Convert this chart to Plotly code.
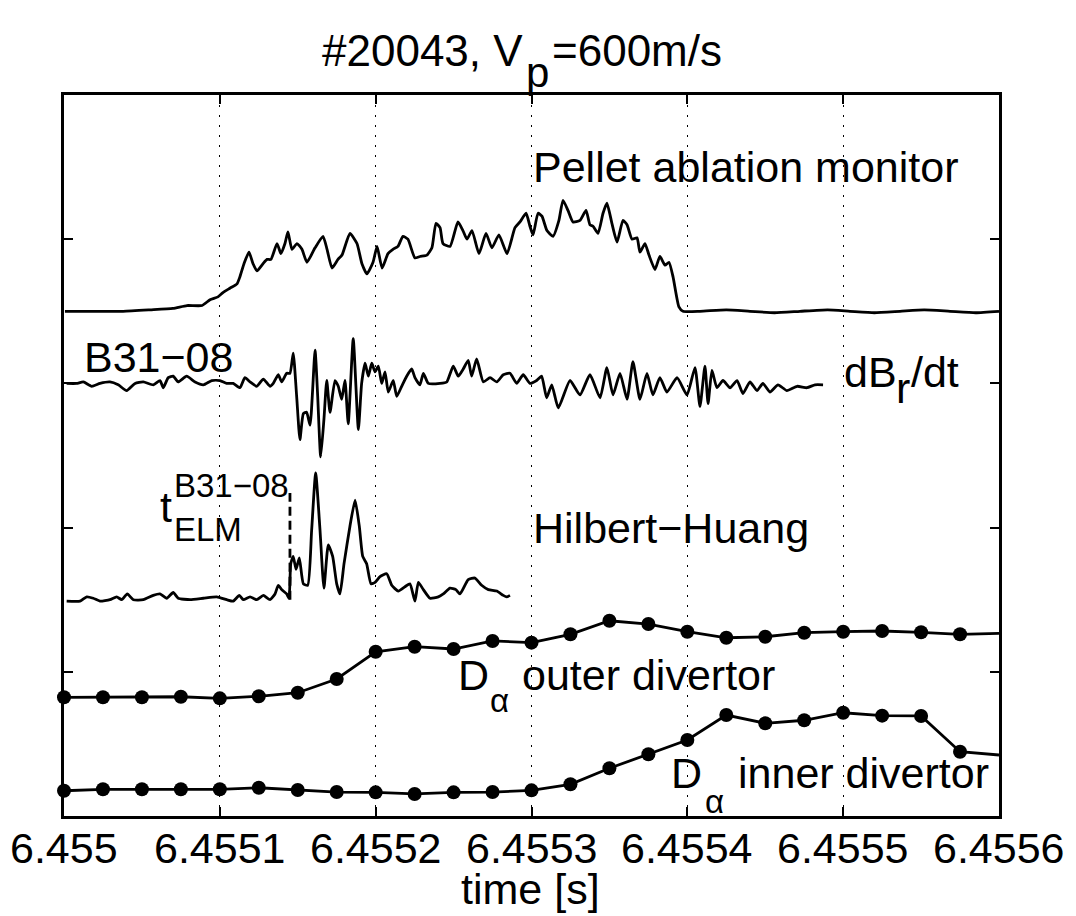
import numpy as np
import plotly.graph_objects as go

T0 = 6.455  # s, time origin; time arrays below are microseconds after T0

# ---------------- data ----------------
pellet_t_us = [0.6, 16.7, 37.9, 55.2, 69.9, 78.9, 88.6, 93.7, 98.8, 102.0, 106.5, 111.0, 112.9, 115.5,
               118.7, 121.3, 123.8, 127.7, 130.3, 132.8, 136.7, 139.2, 141.8, 143.7, 146.3, 149.5, 152.7,
               155.9, 161.1, 166.2, 168.8, 172.0, 175.8, 178.4, 183.5, 188.0, 191.2, 194.4, 198.3, 200.9,
               204.1, 207.9, 211.1, 214.3, 217.5, 220.7, 225.2, 228.4, 232.9, 236.1, 238.7, 241.3, 243.2,
               247.7, 252.8, 256.0, 258.6, 261.8, 266.3, 270.8, 274.6, 279.1, 284.3, 289.4, 292.6, 296.5,
               299.0, 301.0, 304.2, 306.7, 309.9, 313.8, 317.6, 320.2, 323.4, 326.6, 331.1, 335.0, 337.5,
               339.5, 342.7, 345.9, 348.4, 351.6, 354.9, 358.7, 361.3, 364.5, 367.7, 369.6, 372.8, 375.4,
               379.2, 382.4, 385.7, 388.2, 390.8, 394.6, 397.2, 408.1, 425.0, 440.2, 456.0, 472.3, 490.0,
               504.4, 520.0, 536.5, 552.0, 568.6, 585.0, 600.0]
pellet_val = [3.50, 3.50, 3.50, 3.51, 3.52, 3.54, 3.54, 3.58, 3.60, 3.63, 3.66, 3.69, 3.74, 3.83,
              3.91, 3.83, 3.78, 3.83, 3.86, 3.86, 3.97, 3.90, 3.97, 4.05, 3.93, 3.97, 3.93,
              3.84, 3.94, 4.02, 3.93, 3.80, 3.86, 3.89, 4.04, 3.97, 3.83, 3.76, 3.84, 3.95,
              3.80, 3.90, 3.93, 3.95, 4.02, 4.00, 3.87, 3.88, 3.89, 3.94, 4.11, 4.08, 3.97,
              3.95, 4.12, 4.06, 4.00, 4.06, 3.90, 4.04, 3.94, 4.03, 3.90, 4.08, 4.12, 4.18,
              4.09, 4.03, 4.18, 4.16, 4.06, 4.02, 4.13, 4.27, 4.20, 4.12, 4.13, 4.20, 4.10,
              4.09, 4.04, 4.18, 4.25, 4.11, 3.98, 4.13, 4.10, 4.00, 4.01, 3.91, 3.97, 3.89,
              3.79, 3.88, 3.82, 3.84, 3.74, 3.53, 3.50, 3.50, 3.51, 3.50, 3.49, 3.50, 3.51,
              3.50, 3.49, 3.50, 3.51, 3.50, 3.49, 3.50]

dbdt_t_us = [1.7, 8.1, 12.4, 17.8, 23.1, 29.5, 34.8, 40.2, 45.6, 50.9, 57.3, 61.6, 63.7, 66.9, 70.1,
             73.3, 78.7, 84.1, 89.4, 94.8, 100.1, 104.4, 108.6, 112.9, 116.1, 119.4, 123.7, 127.9,
             132.2, 134.3, 137.5, 139.7, 142.9, 145.0, 147.1, 149.3, 151.4, 153.6, 155.7, 157.9,
             161.1, 162.8, 164.7, 166.8, 168.6, 170.7, 173.9, 176.0, 178.2, 180.3, 182.4, 185.6,
             188.9, 191.0, 193.2, 195.3, 197.5, 199.6, 201.7, 203.9, 206.0, 208.1, 211.3, 213.5,
             216.7, 219.9, 223.1, 225.2, 228.4, 230.6, 233.8, 241.3, 245.6, 249.8, 253.0, 256.2,
             259.4, 261.6, 264.8, 269.1, 273.4, 277.7, 281.9, 286.2, 290.5, 294.7, 299.0, 303.3,
             306.5, 309.7, 313.0, 317.2, 324.7, 331.1, 337.5, 344.0, 348.4, 352.3, 356.8, 361.3,
             365.1, 369.6, 374.1, 377.9, 382.4, 386.9, 393.4, 399.8, 404.9, 408.1, 411.3, 413.3,
             415.8, 419.0, 422.9, 427.4, 431.9, 435.7, 440.2, 444.7, 448.5, 453.0, 458.2, 463.9,
             470.4, 476.8, 481.9, 487.1]
dbdt_val = [3.00, 3.00, 3.01, 2.98, 3.00, 3.01, 2.99, 2.95, 3.00, 3.01, 2.99, 3.02, 2.97, 3.04, 3.05,
            3.01, 3.05, 3.01, 2.99, 3.02, 3.02, 3.00, 3.00, 2.97, 3.04, 3.01, 2.98, 3.03,
            2.98, 3.00, 3.06, 3.01, 3.07, 3.07, 3.21, 2.91, 2.61, 2.79, 2.80, 2.71,
            3.23, 2.91, 2.49, 2.75, 3.02, 2.80, 3.02, 2.98, 2.89, 3.02, 2.72, 3.31,
            2.68, 3.00, 3.14, 3.05, 3.14, 3.08, 3.12, 3.00, 3.08, 2.94, 3.02, 2.91,
            2.98, 3.05, 3.10, 3.04, 2.99, 3.07, 3.00, 3.00, 3.01, 3.12, 3.05, 3.10,
            3.16, 3.05, 3.17, 3.01, 3.04, 3.01, 3.06, 3.07, 3.00, 3.06, 3.00, 3.02,
            3.05, 2.90, 2.99, 2.83, 3.02, 2.92, 3.06, 2.90, 3.11, 2.92, 3.07, 2.89,
            3.15, 2.89, 3.07, 2.92, 3.04, 2.94, 3.04, 2.92, 3.11, 2.84, 3.12, 2.86,
            3.09, 2.97, 3.02, 2.97, 3.02, 2.93, 3.01, 2.95, 3.00, 2.94, 2.99, 2.95,
            2.98, 2.97, 2.99, 2.99]

hht_t_us = [1.7, 10.3, 14.6, 18.8, 23.1, 29.5, 33.8, 37.0, 40.6, 44.5, 50.9, 57.3, 61.6, 65.9, 70.1,
            73.3, 80.9, 89.4, 98.0, 104.4, 108.6, 112.5, 115.1, 119.4, 123.7, 127.9, 132.2, 135.4,
            137.5, 139.7, 142.9, 144.4, 145.5, 147.1, 148.9, 151.0, 153.6, 156.4, 158.9, 161.5,
            164.3, 166.8, 169.6, 172.4, 175.0, 177.1, 179.7, 183.5, 186.8, 189.5, 191.7, 194.2,
            197.0, 199.6, 202.8, 207.1, 210.3, 214.5, 218.8, 222.0, 225.2, 227.4, 230.6, 234.9,
            240.2, 243.4, 247.7, 251.5, 254.1, 259.4, 263.7, 268.0, 272.3, 277.7, 281.9, 284.1, 286.2]
hht_val = [1.49, 1.49, 1.52, 1.51, 1.49, 1.50, 1.52, 1.50, 1.54, 1.50, 1.50, 1.53, 1.54, 1.51, 1.55,
           1.51, 1.50, 1.51, 1.52, 1.50, 1.49, 1.53, 1.50, 1.52, 1.50, 1.53, 1.50, 1.54,
           1.60, 1.57, 1.54, 1.51, 1.75, 1.80, 1.71, 1.79, 1.61, 1.60, 1.98, 2.38,
           1.98, 1.58, 1.88, 1.80, 1.61, 1.54, 1.75, 2.01, 2.19, 2.01, 1.80, 1.75,
           1.61, 1.62, 1.66, 1.68, 1.60, 1.56, 1.59, 1.61, 1.49, 1.62, 1.57, 1.51,
           1.52, 1.54, 1.58, 1.57, 1.54, 1.64, 1.65, 1.60, 1.57, 1.56, 1.53, 1.52, 1.53]

t_elm_us = 145.0
t_elm_span = [1.50, 2.24]

dalpha_t_us = [0, 25, 50, 75, 100, 125, 150, 175, 200, 225, 250, 275, 300, 325, 350, 375, 400,
               425, 450, 475, 500, 525, 550, 575, 600]
dalpha_outer = [0.823, 0.823, 0.823, 0.827, 0.816, 0.830, 0.855, 0.950, 1.139, 1.174, 1.158, 1.214,
                1.202, 1.260, 1.354, 1.331, 1.278, 1.236, 1.243, 1.271, 1.278, 1.283, 1.274, 1.260, 1.267]
dalpha_inner = [0.175, 0.185, 0.185, 0.185, 0.185, 0.196, 0.180, 0.166, 0.164, 0.153, 0.164, 0.166,
                0.178, 0.220, 0.331, 0.428, 0.527, 0.700, 0.643, 0.664, 0.716, 0.696, 0.694, 0.446, 0.423]

x_tickvals = [6.4550, 6.4551, 6.4552, 6.4553, 6.4554, 6.4555, 6.4556]
x_ticktext = ["6.455", "6.4551", "6.4552", "6.4553", "6.4554", "6.4555", "6.4556"]
y_tickvals = [1, 2, 3, 4]

# ---------------- figure ----------------
FONT = "Liberation Sans, Arial, Helvetica, sans-serif"
FS = 43
LW = 2.8
BOX_L, BOX_R, BOX_T, BOX_B = 64, 999, 95, 816   # plot-area pixel box


def tx(us):
    return T0 + np.asarray(us, dtype=float) * 1e-6


def px(xp):
    return (xp - BOX_L) / (BOX_R - BOX_L)


def py(yp):
    return (BOX_B - yp) / (BOX_B - BOX_T)


fig = go.Figure()
line = dict(color="black", width=LW)
for tt, vv in [(pellet_t_us, pellet_val), (dbdt_t_us, dbdt_val), (hht_t_us, hht_val)]:
    fig.add_trace(go.Scatter(x=tx(tt), y=vv, mode="lines",
                             line=dict(color="black", width=LW, shape="spline", smoothing=0.5),
                             showlegend=False, hoverinfo="skip"))

fig.add_trace(go.Scatter(x=tx([t_elm_us, t_elm_us]), y=t_elm_span, mode="lines",
                         line=dict(color="black", width=LW, dash="9px,5px"), showlegend=False))

msize = [14] * (len(dalpha_t_us) - 1) + [0]
for vv in [dalpha_outer, dalpha_inner]:
    fig.add_trace(go.Scatter(x=tx(dalpha_t_us), y=vv, mode="lines+markers", line=line, opacity=1,
                             marker=dict(color="#000000", size=msize, opacity=1,
                                         line=dict(width=0, color="#000000")),
                             cliponaxis=False, showlegend=False))

# ---------------- annotations ----------------
def ann(text, x_us, y, size=FS, xanchor="left"):
    fig.add_annotation(text=text, x=tx(x_us), y=y, xref="x", yref="y",
                       xanchor=xanchor, yanchor="middle", showarrow=False, borderpad=0,
                       font=dict(family=FONT, size=size, color="black"))


def pann(text, xp, yp, size=FS, xanchor="left"):
    fig.add_annotation(text=text, x=px(xp), y=py(yp), xref="paper", yref="paper",
                       xanchor=xanchor, yanchor="middle", showarrow=False, borderpad=0,
                       font=dict(family=FONT, size=size, color="black"))


ann("Pellet ablation monitor", 300, 4.50)
ann("B31\u221208", 12.0, 3.18)
ann("dB", 500.0, 3.08)
ann("r", 533.5, 2.97)
ann("/dt", 543.0, 3.08)
ann("t", 61.0, 2.14)
ann("B31\u221208", 70.0, 2.295, size=33)
ann("ELM", 70.0, 1.99, size=33)
ann("Hilbert\u2212Huang", 300, 2.00)
ann("D", 252, 0.98)
ann("\u03b1", 272.5, 0.80, size=33)
ann("outer divertor", 293.5, 0.98)
ann("D", 389, 0.30)
ann("\u03b1", 410.5, 0.10, size=33)
ann("inner divertor", 432.0, 0.30)

# title pieces
pann("#20043, V", 524, 50, size=44, xanchor="right")
pann("p", 525, 72, size=42)
pann("=600m/s", 551, 50, size=44)

# x tick labels and axis title
for v, s in zip(x_tickvals, x_ticktext):
    fig.add_annotation(text=s, x=v, y=py(848), xref="x", yref="paper", xanchor="center",
                       yanchor="middle", showarrow=False, borderpad=0,
                       font=dict(family=FONT, size=FS, color="black"))
pann("time [s]", 530, 889, xanchor="center")

fig.update_layout(
    width=1076, height=916,
    margin=dict(l=BOX_L, r=1076 - BOX_R, t=BOX_T, b=916 - BOX_B, autoexpand=False),
    paper_bgcolor="white", plot_bgcolor="white",
    font=dict(family=FONT, size=FS, color="black"),
    showlegend=False,
)
fig.update_xaxes(
    range=[6.4550, 6.4556], tickvals=x_tickvals, showticklabels=False,
    ticks="inside", ticklen=9, tickwidth=2, tickcolor="black",
    showline=True, linewidth=2.5, linecolor="black", mirror="ticks",
    showgrid=True, gridcolor="black", gridwidth=1, griddash="1.5px,8.5px",
    zeroline=False,
)
fig.update_yaxes(
    range=[0, 5], tickvals=y_tickvals, showticklabels=False,
    ticks="inside", ticklen=9, tickwidth=2, tickcolor="black",
    showline=True, linewidth=2.5, linecolor="black", mirror="ticks",
    showgrid=False, zeroline=False,
)

fig.write_html("out.html")
